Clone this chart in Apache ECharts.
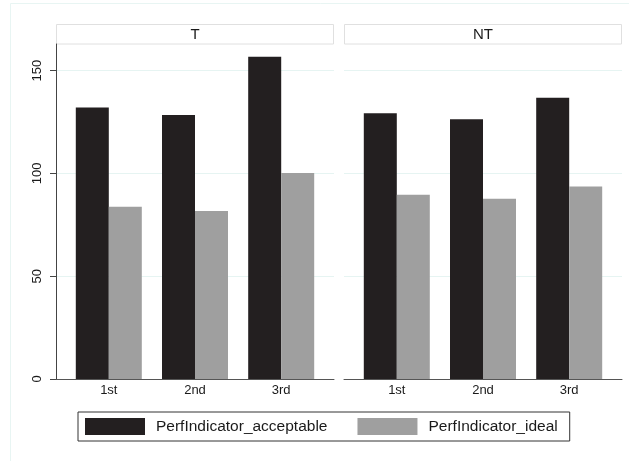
<!DOCTYPE html>
<html>
<head>
<meta charset="utf-8">
<script src="https://cdn.jsdelivr.net/npm/echarts@6/dist/echarts.min.js"></script>
<style>html,body{margin:0;padding:0;background:#fff}#c{width:629px;height:461px}</style>
</head>
<body>
<div id="c"></div>
<script>
const categories = ['1st', '2nd', '3rd'];
const panels = ['T', 'NT'];
const seriesNames = ['PerfIndicator_acceptable', 'PerfIndicator_ideal'];
const acceptableT = [132.1, 128.5, 156.8];
const idealT = [83.8, 81.7, 100.2];
const acceptableNT = [129.3, 126.4, 136.8];
const idealNT = [89.6, 87.7, 93.7];
const yTicks = [0, 50, 100, 150];
const yMin = 0, yMax = 163;

const FONT = 'Liberation Sans, Arial, sans-serif';
const BLACK = '#231f20', GREY = '#9f9f9f';
const chart = echarts.init(document.getElementById('c'), null, {renderer: 'canvas'});

const plotTop = 44, plotH = 335;
const frames = [{left: 56, width: 278}, {left: 344, width: 278}];
const bandW = 86.2;
const grids = [];
frames.forEach(f => grids.push({left: f.left, top: plotTop, width: f.width, height: plotH}));
frames.forEach(f => grids.push({left: f.left + f.width / 2 - 1.5 * bandW, top: plotTop, width: 3 * bandW, height: plotH}));

const xAxes = [], yAxes = [];
[0, 1].forEach(i => {
  xAxes.push({gridIndex: i, type: 'value', min: 0, max: 1,
    axisLine: {show: true, lineStyle: {color: '#555', width: 1}},
    axisTick: {show: false}, axisLabel: {show: false}, splitLine: {show: false}});
  yAxes.push({gridIndex: i, type: 'value', min: yMin, max: yMax, interval: 50,
    axisLine: {show: i === 0, lineStyle: {color: '#444', width: 1}},
    axisTick: {show: i === 0, length: 6, lineStyle: {color: '#444'}, customValues: yTicks},
    axisLabel: {show: i === 0, rotate: 90, margin: 12, fontSize: 13, color: '#1a1a1a', fontFamily: FONT, customValues: yTicks},
    splitLine: {show: true, lineStyle: {color: '#e6f4f2', width: 1}}});
});
[2, 3].forEach(i => {
  xAxes.push({gridIndex: i, type: 'category', data: categories,
    axisLine: {show: false}, axisTick: {show: false},
    axisLabel: {margin: 5, fontSize: 13, color: '#1a1a1a', fontFamily: FONT}});
  yAxes.push({gridIndex: i, type: 'value', min: yMin, max: yMax, show: false, splitLine: {show: false}});
});

const mk = (name, data, idx, color) => ({
  name: name, type: 'bar', xAxisIndex: idx, yAxisIndex: idx, data: data,
  barWidth: 33, barGap: '0%', itemStyle: {color: color}, silent: true, animation: false
});

const series = [
  mk(seriesNames[0], acceptableT, 2, BLACK),
  mk(seriesNames[1], idealT, 2, GREY),
  mk(seriesNames[0], acceptableNT, 3, BLACK),
  mk(seriesNames[1], idealNT, 3, GREY)
];

const graphics = [
  {type: 'rect', shape: {x: 10.5, y: 3.5, width: 700, height: 600}, style: {fill: 'none', stroke: '#e8f5f3', lineWidth: 1}, silent: true, z: -10}
];
frames.forEach((f, i) => {
  graphics.push({type: 'rect', shape: {x: f.left + 0.5, y: 24.5, width: f.width - 1, height: 19.5},
    style: {fill: '#fff', stroke: '#e0e0e0', lineWidth: 1}, silent: true});
  graphics.push({type: 'text', x: f.left + f.width / 2, y: 34.5,
    style: {text: panels[i], fill: '#1a1a1a', font: '15px ' + FONT, textAlign: 'center', textVerticalAlign: 'middle'}, silent: true});
});

chart.setOption({
  animation: false,
  backgroundColor: '#fff',
  grid: grids,
  xAxis: xAxes,
  yAxis: yAxes,
  series: series,
  graphic: graphics,
  legend: {
    data: seriesNames, left: 78, top: 412, orient: 'horizontal',
    padding: [6, 12, 6, 7], itemGap: 30, itemWidth: 60, itemHeight: 17,
    borderColor: '#333', borderWidth: 1, icon: 'rect',
    selectedMode: false,
    textStyle: {fontSize: 15.5, color: '#1a1a1a', fontFamily: FONT, padding: [0, 0, 0, 6]}
  }
});
</script>
</body>
</html>
